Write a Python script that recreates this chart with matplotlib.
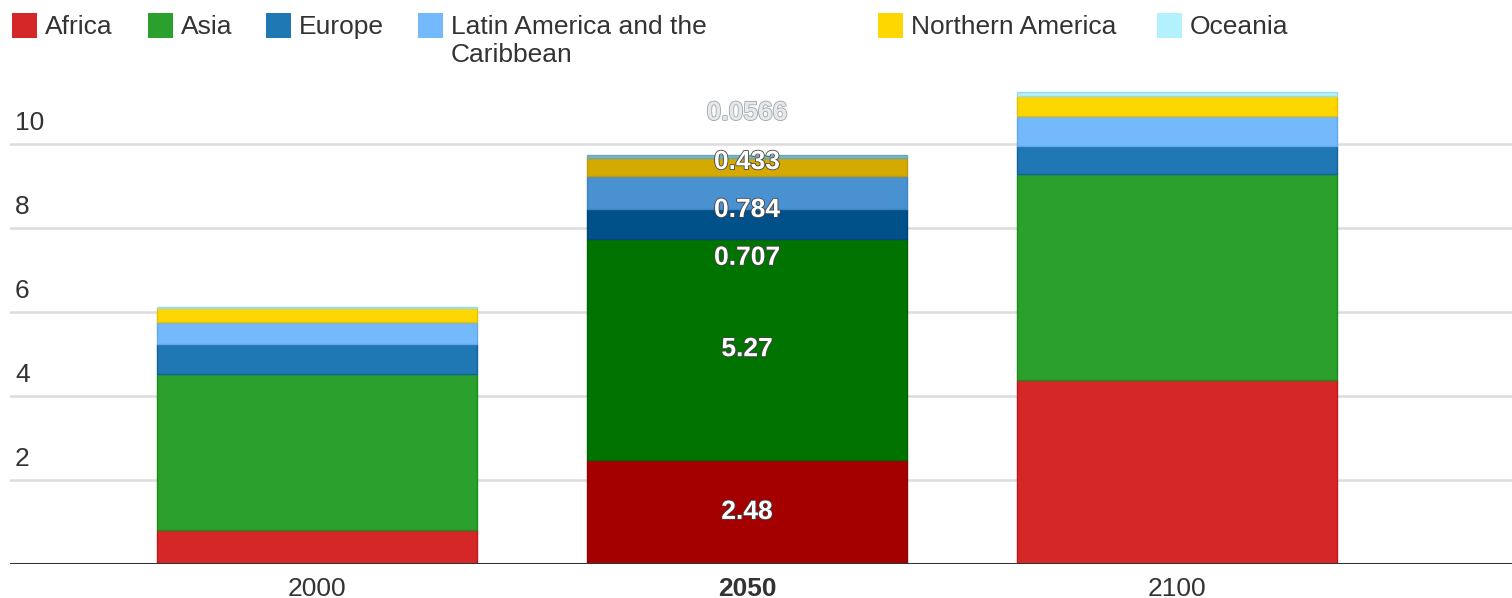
import numpy as np
import matplotlib
matplotlib.use("Agg")
import matplotlib.pyplot as plt
import matplotlib.patheffects as pe
from matplotlib.patches import Rectangle

plt.rcParams["font.family"] = ["Liberation Sans", "DejaVu Sans"]

# =========================
# DATA (billions)
# =========================
years = ["2000", "2050", "2100"]
regions = ["Africa", "Asia", "Europe", "Latin America and the\nCaribbean",
           "Northern America", "Oceania"]

africa = [0.81, 2.48, 4.38]
asia = [3.71, 5.27, 4.91]
europe = [0.72, 0.707, 0.67]
latin_america = [0.52, 0.784, 0.71]
northern_america = [0.33, 0.433, 0.47]
oceania = [0.04, 0.0566, 0.09]

labels_2050 = ["2.48", "5.27", "0.707", "0.784", "0.433", "0.0566"]

# =========================
# STYLE
# =========================
colors = ["#d62728", "#2ca02c", "#1f77b4", "#74b9fb", "#ffd700", "#b3f1fc"]
edges = ["#c0181b", "#1a8c1a", "#12639e", "#62a8ea", "#e6c000", "#9adde8"]
hl_colors = ["#a50000", "#007300", "#00508a", "#4a91d2", "#d4aa00", "#7ab9c3"]
hl_edges = ["#950000", "#006400", "#00457a", "#3f84c4", "#c09a00", "#6aa9b3"]

# label placement (y in data units) - shifted to avoid overlaps like the original
label_y = [1.24, 5.115, 7.29, 8.43, 9.57, 10.74]
label_text_color = ["white"] * 5 + ["#e8e8e8"]

highlight = 1
series = [africa, asia, europe, latin_america, northern_america, oceania]

fig = plt.figure(figsize=(15.12, 5.98), dpi=100)
W, H = 1512, 598
base_px, unit_px = 564, 42
top_px = 80
ax = fig.add_axes([10 / W, (H - base_px) / H, 1 - 10 / W, (base_px - top_px) / H])

x = np.arange(len(years))
bottom = np.zeros(len(years))
for i, vals in enumerate(series):
    vals = np.array(vals)
    fc = [hl_colors[i] if j == highlight else colors[i] for j in range(len(years))]
    ec = [hl_edges[i] if j == highlight else edges[i] for j in range(len(years))]
    ax.bar(x, vals, width=0.744, bottom=bottom, color=fc, edgecolor=ec,
           linewidth=1, zorder=3)
    bottom += vals

# data labels on the highlighted bar
for i, txt in enumerate(labels_2050):
    stroke = "#9aa6b2" if i == len(labels_2050) - 1 else "#444444"
    ax.text(highlight, label_y[i], txt, ha="center", va="center",
            fontsize=19, fontweight="bold", color=label_text_color[i], zorder=5,
            path_effects=[pe.withStroke(linewidth=1.2, foreground=stroke)])

ax.set_xlim((10 - 317) / 430, (1512 - 317) / 430)
ax.set_ylim(0, (base_px - top_px) / unit_px)

# gridlines with labels sitting above them
for t in [2, 4, 6, 8, 10]:
    ax.axhline(t, color="#dcdcdc", lw=1.8, zorder=1)
    ax.text(5 / (W - 10), t + 0.5, str(t), transform=ax.get_yaxis_transform(),
            ha="left", va="center", fontsize=19, color="#333333")
ax.axhline(0, color="#333333", lw=2.2, zorder=4)

for s in ax.spines.values():
    s.set_visible(False)
ax.set_yticks([])
ax.set_xticks(x)
ax.set_xticklabels(years, fontsize=19, color="#333333")
ax.get_xticklabels()[highlight].set_fontweight("bold")
ax.tick_params(axis="x", length=0, pad=9)

# legend drawn by hand across the top
sq_x = [12, 148, 266, 418, 878, 1157]
for i, name in enumerate(regions):
    fig.patches.append(Rectangle((sq_x[i] / W, 1 - 38 / H), 25 / W, 25 / H,
                                 transform=fig.transFigure, facecolor=colors[i],
                                 edgecolor="none"))
    if "\n" in name:
        fig.text((sq_x[i] + 33) / W, 1 - 15 / H, name, ha="left", va="top",
                 fontsize=19, color="#333333", linespacing=1.2)
    else:
        fig.text((sq_x[i] + 33) / W, 1 - 34 / H, name, ha="left", va="baseline",
                 fontsize=19, color="#333333")

fig.savefig("out.png", dpi=100)
